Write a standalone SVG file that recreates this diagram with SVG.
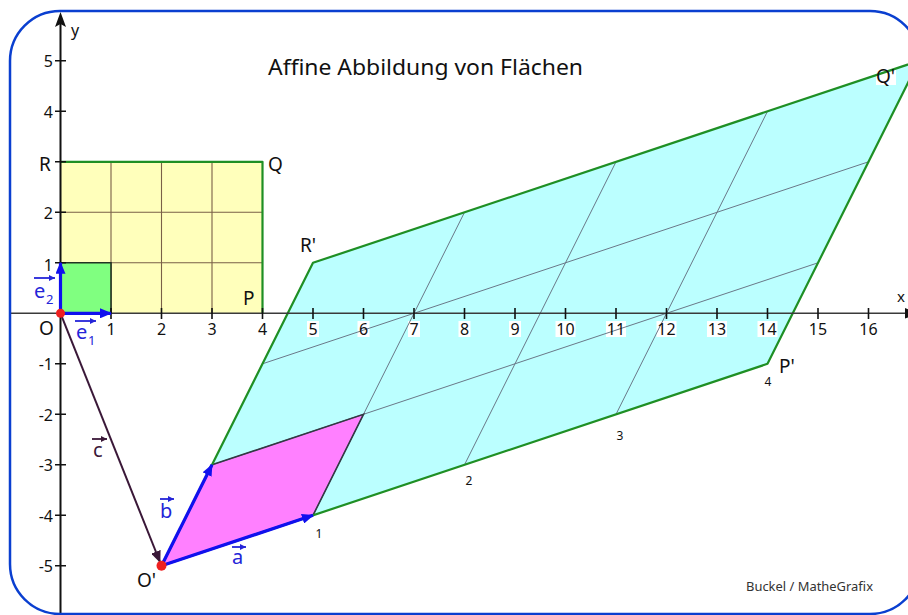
<svg xmlns="http://www.w3.org/2000/svg" width="908" height="615" viewBox="0 0 908 615">
<defs>
<style>
.lbl{font-family:"Noto Sans","DejaVu Sans",sans-serif;fill:#111}
.tick{font-size:16px;text-anchor:middle}
.ytick{font-size:16px;text-anchor:end}
.pt{font-size:19px}
.sm{font-size:12px;text-anchor:middle}
.vec{font-family:"Noto Sans","DejaVu Sans",sans-serif;font-size:20px;fill:#2424d8}
.vsub{font-family:"Noto Sans","DejaVu Sans",sans-serif;font-size:13px;fill:#2424d8}
.grid{stroke:#6a7888;stroke-width:1;fill:none}
.ygrid{stroke:#7a6048;stroke-width:1.1;fill:none}
.edge{stroke:#1f8f24;stroke-width:2.2;fill:none;stroke-linejoin:round}
.tk{stroke:#111;stroke-width:1.6}
.bg{fill:#fff}
</style>
<marker id="ab" viewBox="0 0 12 10" refX="11" refY="5" markerWidth="12" markerHeight="10" markerUnits="userSpaceOnUse" orient="auto"><path d="M0,0 L12,5 L0,10 z" fill="#1010ee"/></marker>
<marker id="ac" viewBox="0 0 12 10" refX="11" refY="5" markerWidth="12" markerHeight="10" markerUnits="userSpaceOnUse" orient="auto"><path d="M0,0 L12,5 L0,10 z" fill="#3a1838"/></marker>
<marker id="sb" viewBox="0 0 6 6" refX="6" refY="3" markerWidth="6" markerHeight="6" markerUnits="userSpaceOnUse" orient="auto"><path d="M0,0 L6,3 L0,6 z" fill="#2424d8"/></marker>
<marker id="sc" viewBox="0 0 6 6" refX="6" refY="3" markerWidth="6" markerHeight="6" markerUnits="userSpaceOnUse" orient="auto"><path d="M0,0 L6,3 L0,6 z" fill="#3a1838"/></marker>
</defs>
<rect width="908" height="615" fill="#fff"/>

<!-- original rectangle OPQR -->
<g id="rect-OPQR">
<rect x="60.5" y="161.8" width="202" height="151.5" fill="#ffffbb"/>
<path class="ygrid" d="M111,161.8V313.3M161.5,161.8V313.3M212,161.8V313.3M60.5,212.3H262.5M60.5,262.8H262.5"/>
<rect x="60.5" y="262.8" width="50.5" height="50.5" fill="#80ff80"/>
<path d="M60.5,262.8H111V313.3" fill="none" stroke="#223322" stroke-width="1.6"/>
<path class="edge" d="M60.5,161.8H262.5V313.3"/>
</g>

<!-- image parallelogram O'P'Q'R' -->
<g id="parallelogram">
<polygon points="161.5,565.8 767.5,363.8 919,60.8 313,262.8" fill="#bbffff"/>
<polygon points="161.5,565.8 313,515.3 363.5,414.3 212,464.8" fill="#ff80ff"/>
<g id="xlabel-bg">
<rect class="bg" x="307" y="321" width="12" height="16"/>
<rect class="bg" x="357.5" y="321" width="12" height="16"/>
<rect class="bg" x="408" y="321" width="12" height="16"/>
<rect class="bg" x="458.5" y="321" width="12" height="16"/>
<rect class="bg" x="509" y="321" width="12" height="16"/>
<rect class="bg" x="555.5" y="321" width="20" height="16"/>
<rect class="bg" x="606" y="321" width="20" height="16"/>
<rect class="bg" x="656.5" y="321" width="20" height="16"/>
<rect class="bg" x="707" y="321" width="20" height="16"/>
<rect class="bg" x="757.5" y="321" width="20" height="16"/>
<rect class="bg" x="808" y="321" width="20" height="16"/>
<rect class="bg" x="876" y="65" width="20" height="20"/>
</g>
<path class="grid" d="M313,515.3L464.5,212.3M464.5,464.8L616,161.8M616,414.3L767.5,111.3M212,464.8L818,262.8M262.5,363.8L868.5,161.8"/>
<path d="M212,464.8L363.5,414.3L313,515.3" fill="none" stroke="#333844" stroke-width="1.6"/>
<path class="edge" d="M161.5,565.8L767.5,363.8L919,60.8L313,262.8Z"/>
</g>

<!-- axes -->
<g id="axes">
<line x1="10" y1="313.3" x2="908" y2="313.3" stroke="#3a3a3a" stroke-width="1.6"/>
<path d="M905,308 L918,313.3 L905,318.6 z" fill="#111"/>
<line x1="60.5" y1="615" x2="60.5" y2="22" stroke="#111" stroke-width="2"/>
<path d="M60.5,12 L66,27 L60.5,24 L55,27 z" fill="#111"/>
<path class="tk" d="M111,308V319M161.5,308V319M212,308V319M262.5,308V319M313,308V319M363.5,308V319M414,308V319M464.5,308V319M515,308V319M565.5,308V319M616,308V319M666.5,308V319M717,308V319M767.5,308V319M818,308V319M868.5,308V319"/>
<path class="tk" d="M55,60.8H66M55,111.3H66M55,161.8H66M55,212.3H66M55,262.8H66M55,363.8H66M55,414.3H66M55,464.8H66M55,515.3H66M55,565.8H66"/>
</g>

<!-- vectors -->
<g id="connectors">
<line x1="60.5" y1="313.3" x2="160" y2="562" stroke="#3a1838" stroke-width="2" marker-end="url(#ac)"/>
<line x1="60.5" y1="313.3" x2="111" y2="313.3" stroke="#1010ee" stroke-width="3.2" marker-end="url(#ab)"/>
<line x1="60.5" y1="313.3" x2="60.5" y2="262.8" stroke="#1010ee" stroke-width="3.2" marker-end="url(#ab)"/>
<line x1="161.5" y1="565.8" x2="313" y2="515.3" stroke="#1010ee" stroke-width="3.2" marker-end="url(#ab)"/>
<line x1="161.5" y1="565.8" x2="212" y2="464.8" stroke="#1010ee" stroke-width="3.2" marker-end="url(#ab)"/>
<circle cx="60.5" cy="313.3" r="4.5" fill="#ee2020"/>
<circle cx="161.5" cy="565.8" r="5" fill="#ee2020"/>
</g>

<!-- labels -->
<g id="labels" class="lbl">
<text x="268" y="75" font-size="22" textLength="315" lengthAdjust="spacingAndGlyphs">Affine Abbildung von Flächen</text>
<text x="71" y="36" font-size="16">y</text>
<text x="897" y="302" font-size="15">x</text>
<g class="tick">
<text x="111" y="335">1</text><text x="161.5" y="335">2</text><text x="212" y="335">3</text><text x="262.5" y="335">4</text>
<text x="313" y="335">5</text><text x="363.5" y="335">6</text><text x="414" y="335">7</text><text x="464.5" y="335">8</text>
<text x="515" y="335">9</text><text x="565.5" y="335">10</text><text x="616" y="335">11</text><text x="666.5" y="335">12</text>
<text x="717" y="335">13</text><text x="767.5" y="335">14</text><text x="818" y="335">15</text><text x="868.5" y="335">16</text>
</g>
<g class="ytick">
<text x="53" y="67">5</text><text x="53" y="117.5">4</text><text x="53" y="218.5">2</text><text x="53" y="271">1</text>
<text x="53" y="370">-1</text><text x="53" y="420.5">-2</text><text x="53" y="471">-3</text><text x="53" y="521.5">-4</text><text x="53" y="572">-5</text>
</g>
<g class="pt">
<text x="39" y="335">O</text>
<text x="243" y="305">P</text>
<text x="268" y="171">Q</text>
<text x="39" y="171">R</text>
<text x="300" y="252">R'</text>
<text x="779" y="373">P'</text>
<text x="876" y="83">Q'</text>
<text x="137" y="587">O'</text>
</g>
<g class="sm">
<text x="319" y="538">1</text><text x="469" y="485">2</text><text x="620" y="440">3</text><text x="768" y="386">4</text>
</g>
<text x="746" y="591" font-size="12.5" fill="#333" textLength="127" lengthAdjust="spacingAndGlyphs">Buckel / MatheGrafix</text>
</g>

<!-- vector labels -->
<g id="vector-labels">
<line x1="75" y1="321" x2="96" y2="321" stroke="#2424d8" stroke-width="1.8" marker-end="url(#sb)"/>
<text class="vec" x="76" y="339">e</text><text class="vsub" x="88" y="345">1</text>
<line x1="34" y1="278" x2="55" y2="278" stroke="#2424d8" stroke-width="1.8" marker-end="url(#sb)"/>
<text class="vec" x="34" y="298">e</text><text class="vsub" x="46" y="304">2</text>
<line x1="92" y1="439" x2="107" y2="439" stroke="#3a1838" stroke-width="1.8" marker-end="url(#sc)"/>
<text class="vec" x="93" y="457" style="fill:#3a1838">c</text>
<line x1="160" y1="499" x2="174" y2="499" stroke="#2424d8" stroke-width="1.8" marker-end="url(#sb)"/>
<text class="vec" x="160" y="518">b</text>
<line x1="232" y1="547" x2="246" y2="547" stroke="#2424d8" stroke-width="1.8" marker-end="url(#sb)"/>
<text class="vec" x="232" y="564">a</text>
</g>

<!-- frame -->
<rect x="10" y="11" width="910" height="603" rx="50" ry="50" fill="none" stroke="#0a3fd0" stroke-width="2.5"/>
</svg>
